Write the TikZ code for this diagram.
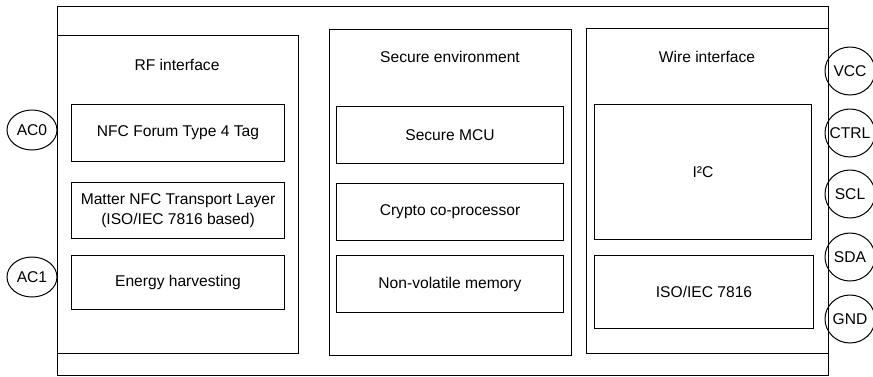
\documentclass[tikz,border=0pt]{standalone}
\usepackage{fontspec}
\setmainfont{Liberation Sans}
\usetikzlibrary{shapes.geometric}
\begin{document}
\begin{tikzpicture}[x=1pt,y=-1pt,
  every node/.style={font=\fontsize{15.6}{19.5}\selectfont},
  box/.style={draw=black, line width=1pt, rectangle, anchor=north west, inner sep=0pt, align=center},
  pin/.style={draw=black, line width=1pt, ellipse, inner sep=0pt, minimum width=50pt},
  ttl/.style={inner sep=0pt}
]
\useasboundingbox (0,0) rectangle (873,376);
% outer chip
\node[box, minimum width=771.5pt, minimum height=369.5pt] (chip) at (56.5,5.5) {};
% panels
\node[box, minimum width=241.5pt, minimum height=317.7pt] (rf) at (56.5,35.3) {};
\node[box, minimum width=242pt, minimum height=325.7pt] (se) at (329,29.3) {};
\node[box, minimum width=242.3pt, minimum height=325pt] (wi) at (585.7,28.3) {};
% titles
\node[ttl] (rft) at (177,65) {RF interface};
\node[ttl] (set) at (450,57) {Secure environment};
\node[ttl] (wit) at (707,57) {Wire interface};
% RF blocks
\node[box, minimum width=213pt, minimum height=57pt] (rf1) at (71,104) {NFC Forum Type 4 Tag};
\node[box, minimum width=213pt, minimum height=56pt] (rf2) at (71,182) {Matter NFC Transport Layer\\(ISO/IEC 7816 based)};
\node[box, minimum width=213pt, minimum height=54pt] (rf3) at (71,255) {Energy harvesting};
% Secure blocks
\node[box, minimum width=227pt, minimum height=57pt] (se1) at (336,106) {Secure MCU};
\node[box, minimum width=227pt, minimum height=57pt] (se2) at (336,183) {Crypto co-processor};
\node[box, minimum width=227pt, minimum height=57pt] (se3) at (336,255) {Non-volatile memory};
% Wire blocks
\node[box, minimum width=217pt, minimum height=135pt] (i2c) at (594,104) {I²C};
\node[box, minimum width=219pt, minimum height=73pt] (iso) at (594,255) {ISO/IEC 7816};
% pins
\node[pin, minimum height=40pt] (ac0) at (32,130) {\makebox[0pt]{AC0}};
\node[pin, minimum height=40pt] (ac1) at (32,277) {\makebox[0pt]{AC1}};
\node[pin, minimum height=48pt] (vcc) at (850,71) {\makebox[0pt]{VCC}};
\node[pin, minimum height=48pt] (ctrl) at (850,133) {\makebox[0pt]{CTRL}};
\node[pin, minimum height=48pt] (scl) at (850,194) {\makebox[0pt]{SCL}};
\node[pin, minimum height=48pt] (sda) at (850,257) {\makebox[0pt]{SDA}};
\node[pin, minimum height=48pt] (gnd) at (850,319) {\makebox[0pt]{GND}};
\end{tikzpicture}
\end{document}
